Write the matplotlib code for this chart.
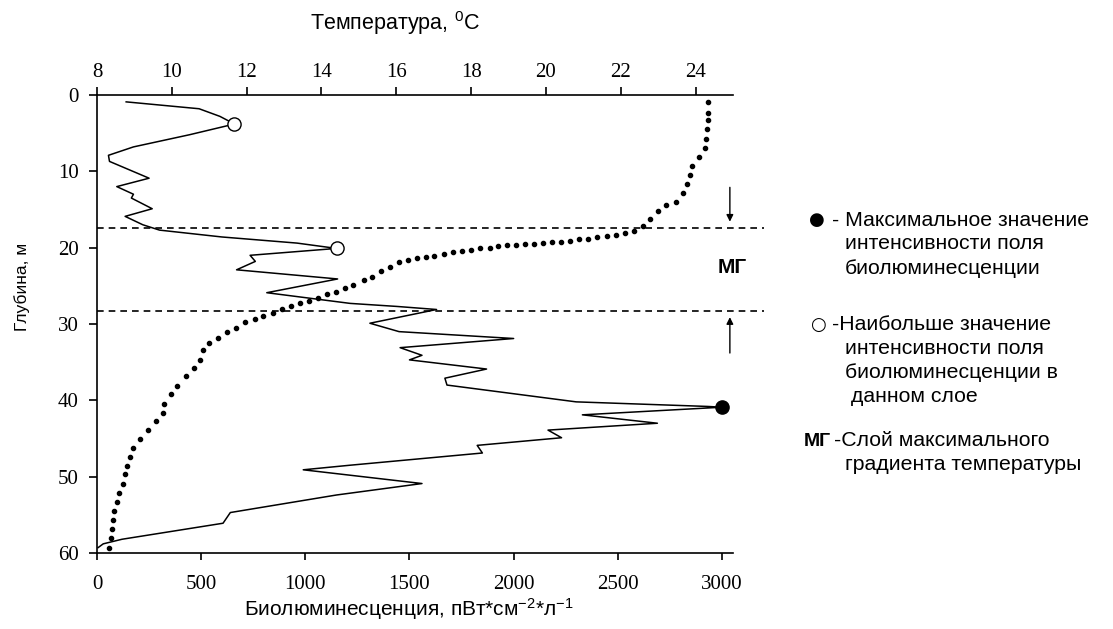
import numpy as np
import matplotlib.pyplot as plt

plt.rcParams['font.family'] = ['Liberation Sans', 'DejaVu Sans']
plt.rcParams['mathtext.default'] = 'regular'

# bioluminescence profile
bio_depth = [0.9, 1.8, 2.8, 3.8, 5.2, 6.8, 7.9, 8.7, 10.9, 12.0, 13.0, 13.5,
             14.9, 15.9, 17.0, 17.7, 18.6, 19.4, 20.1, 21.0, 21.8, 22.9, 24.1,
             25.9, 27.3, 27.7, 28.1, 29.9, 31.0, 31.9, 33.1, 34.1, 34.7, 35.9,
             37.1, 38.0, 40.2, 40.8, 40.9, 41.9, 43.0, 43.9, 44.9, 45.9, 46.9,
             48.5, 49.1, 50.9, 52.4, 54.7, 56.1, 58.2, 58.8, 59.3]
bio = [140, 490, 590, 660, 445, 175, 55, 60, 250, 95, 175, 165,
       265, 135, 220, 300, 600, 960, 1150, 735, 760, 670, 1155,
       815, 1215, 1440, 1630, 1310, 1450, 2000, 1455, 1560, 1500, 1870,
       1670, 1680, 2300, 2930, 3000, 2330, 2690, 2165, 2230, 1825, 1850,
       1215, 990, 1560, 1150, 640, 605, 120, 30, 5]

# local maxima inside each layer and the absolute maximum
layer_peak_idx = [3, 18]
max_idx = int(np.argmax(bio))

# temperature profile
temp_depth = [0.9, 2.3, 3.3, 4.5, 5.7, 6.9, 8.1, 9.3, 10.5, 11.7, 12.9, 14.0,
              14.4, 15.2, 16.3, 17.2, 17.8, 18.1, 18.3, 18.5, 18.6, 18.8, 18.9,
              19.1, 19.2, 19.3, 19.4, 19.5, 19.5, 19.6, 19.7, 19.8, 20.0, 20.1,
              20.3, 20.4, 20.6, 20.8, 21.1, 21.2, 21.4, 21.6, 21.9, 22.5, 23.1,
              23.8, 24.3, 24.9, 25.3, 25.8, 26.1, 26.6, 27.0, 27.3, 27.7, 28.1,
              28.5, 29.0, 29.4, 29.8, 30.5, 31.0, 31.8, 32.5, 33.4, 34.7, 35.8,
              36.8, 38.1, 39.2, 40.5, 41.6, 42.7, 43.9, 45.0, 46.2, 47.4, 48.6,
              49.7, 50.9, 52.1, 53.3, 54.5, 55.7, 56.9, 58.0, 59.3]
temp = [24.34, 24.34, 24.34, 24.30, 24.28, 24.25, 24.09, 23.91, 23.85, 23.76,
        23.67, 23.47, 23.21, 23.00, 22.78, 22.60, 22.35, 22.11, 21.86, 21.62,
        21.37, 21.13, 20.88, 20.64, 20.39, 20.16, 19.93, 19.69, 19.45, 19.21,
        18.96, 18.72, 18.50, 18.25, 18.00, 17.76, 17.51, 17.28, 17.02, 16.79,
        16.55, 16.31, 16.06, 15.84, 15.59, 15.35, 15.13, 14.85, 14.62, 14.40,
        14.16, 13.90, 13.68, 13.43, 13.19, 12.94, 12.70, 12.45, 12.21, 11.96,
        11.71, 11.47, 11.23, 11.00, 10.84, 10.76, 10.60, 10.37, 10.15, 9.98,
        9.80, 9.76, 9.58, 9.35, 9.15, 8.97, 8.88, 8.79, 8.75, 8.70, 8.60,
        8.53, 8.45, 8.42, 8.39, 8.37, 8.32]

# boundaries of the layer of maximum temperature gradient
grad_layer = [17.4, 28.3]

bio_ticks = [0, 500, 1000, 1500, 2000, 2500, 3000]
temp_ticks = [8, 10, 12, 14, 16, 18, 20, 22, 24]
depth_ticks = [0, 10, 20, 30, 40, 50, 60]

W, H = 1113, 629
fig = plt.figure(figsize=(W / 100, H / 100), dpi=100)
ax = fig.add_axes([97 / W, 1 - 553 / H, 636 / W, 458 / H])
ax2 = ax.twiny()

ax.plot(bio, bio_depth, color='black', lw=1.1)
ax.plot([bio[i] for i in layer_peak_idx], [bio_depth[i] for i in layer_peak_idx],
        'o', ms=9.5, mfc='white', mec='black', mew=1.0, zorder=5)
ax.plot(bio[max_idx], bio_depth[max_idx], 'o', ms=9.5, color='black', zorder=5)

ax2.plot(temp, temp_depth, 'o', ms=3.0, color='black', ls='none')

for d in grad_layer:
    ax.plot([0, 3200], [d, d], color='black', lw=1.2, ls=(0, (4, 3)), clip_on=False)

ax.annotate('', xy=(3038, 16.6), xytext=(3038, 12.1),
            arrowprops=dict(arrowstyle='-|>', color='black', lw=1.0,
                            mutation_scale=10, shrinkA=0, shrinkB=0))
ax.annotate('', xy=(3038, 29.1), xytext=(3038, 33.8),
            arrowprops=dict(arrowstyle='-|>', color='black', lw=1.0,
                            mutation_scale=10, shrinkA=0, shrinkB=0))
ax.text(3048, 22.6, 'МГ', fontsize=15, fontweight='bold', ha='center', va='center')

ax.set_xlim(0, 3053)
ax.set_ylim(60, 0)
ax2.set_xlim(8, 25)

ax.set_xticks(bio_ticks)
ax.set_yticks(depth_ticks)
ax2.set_xticks(temp_ticks)
for lab in ax.get_xticklabels() + ax.get_yticklabels() + ax2.get_xticklabels():
    lab.set_fontfamily('Liberation Serif')
    lab.set_fontsize(15)

ax.tick_params(axis='x', direction='out', length=5, width=1.2, pad=11)
ax.tick_params(axis='y', direction='out', length=6, width=1.2, pad=7)
ax2.tick_params(axis='x', direction='out', length=6, width=1.2, pad=3)

for a in (ax, ax2):
    a.spines['right'].set_visible(False)
    for s in a.spines.values():
        s.set_linewidth(1.2)
ax.spines['top'].set_visible(False)
ax2.spines['bottom'].set_visible(False)
ax2.spines['left'].set_visible(False)

ax.set_xlabel('Биолюминесценция, пВт*см$^{-2}$*л$^{-1}$', fontsize=15)
ax.xaxis.set_label_coords(0.49, -0.095)
ax2.set_xlabel('Температура, $^{0}$C', fontsize=15.5)
ax2.xaxis.set_label_coords(0.469, 1.142)
ax.set_ylabel('Глубина, м', fontsize=12.5)
ax.yaxis.set_label_coords(-0.105, 0.581)

# key on the right
fs = 15.3
fig.text(817 / W, 1 - 220 / H, '●', fontsize=13, ha='center', va='center',
         family='DejaVu Sans')
fig.text(832 / W, 1 - 220 / H, '- Максимальное значение', fontsize=fs, va='center')
fig.text(845 / W, 1 - 244 / H, 'интенсивности поля', fontsize=fs, va='center')
fig.text(845 / W, 1 - 268 / H, 'биолюминесценции', fontsize=fs, va='center')

fig.text(818 / W, 1 - 325 / H, '○', fontsize=13, ha='center', va='center',
         family='DejaVu Sans')
fig.text(832 / W, 1 - 325 / H, '-Наибольше значение', fontsize=fs, va='center')
fig.text(845 / W, 1 - 349 / H, 'интенсивности поля', fontsize=fs, va='center')
fig.text(845 / W, 1 - 373 / H, 'биолюминесценции в', fontsize=fs, va='center')
fig.text(845 / W, 1 - 397 / H, ' данном слое', fontsize=fs, va='center')

fig.text(817 / W, 1 - 442 / H, 'МГ', fontsize=14, fontweight='bold', ha='center', va='center')
fig.text(834 / W, 1 - 440 / H, '-Слой максимального', fontsize=fs, va='center')
fig.text(845 / W, 1 - 464 / H, 'градиента температуры', fontsize=fs, va='center')

fig.savefig('out.png', dpi=100)
